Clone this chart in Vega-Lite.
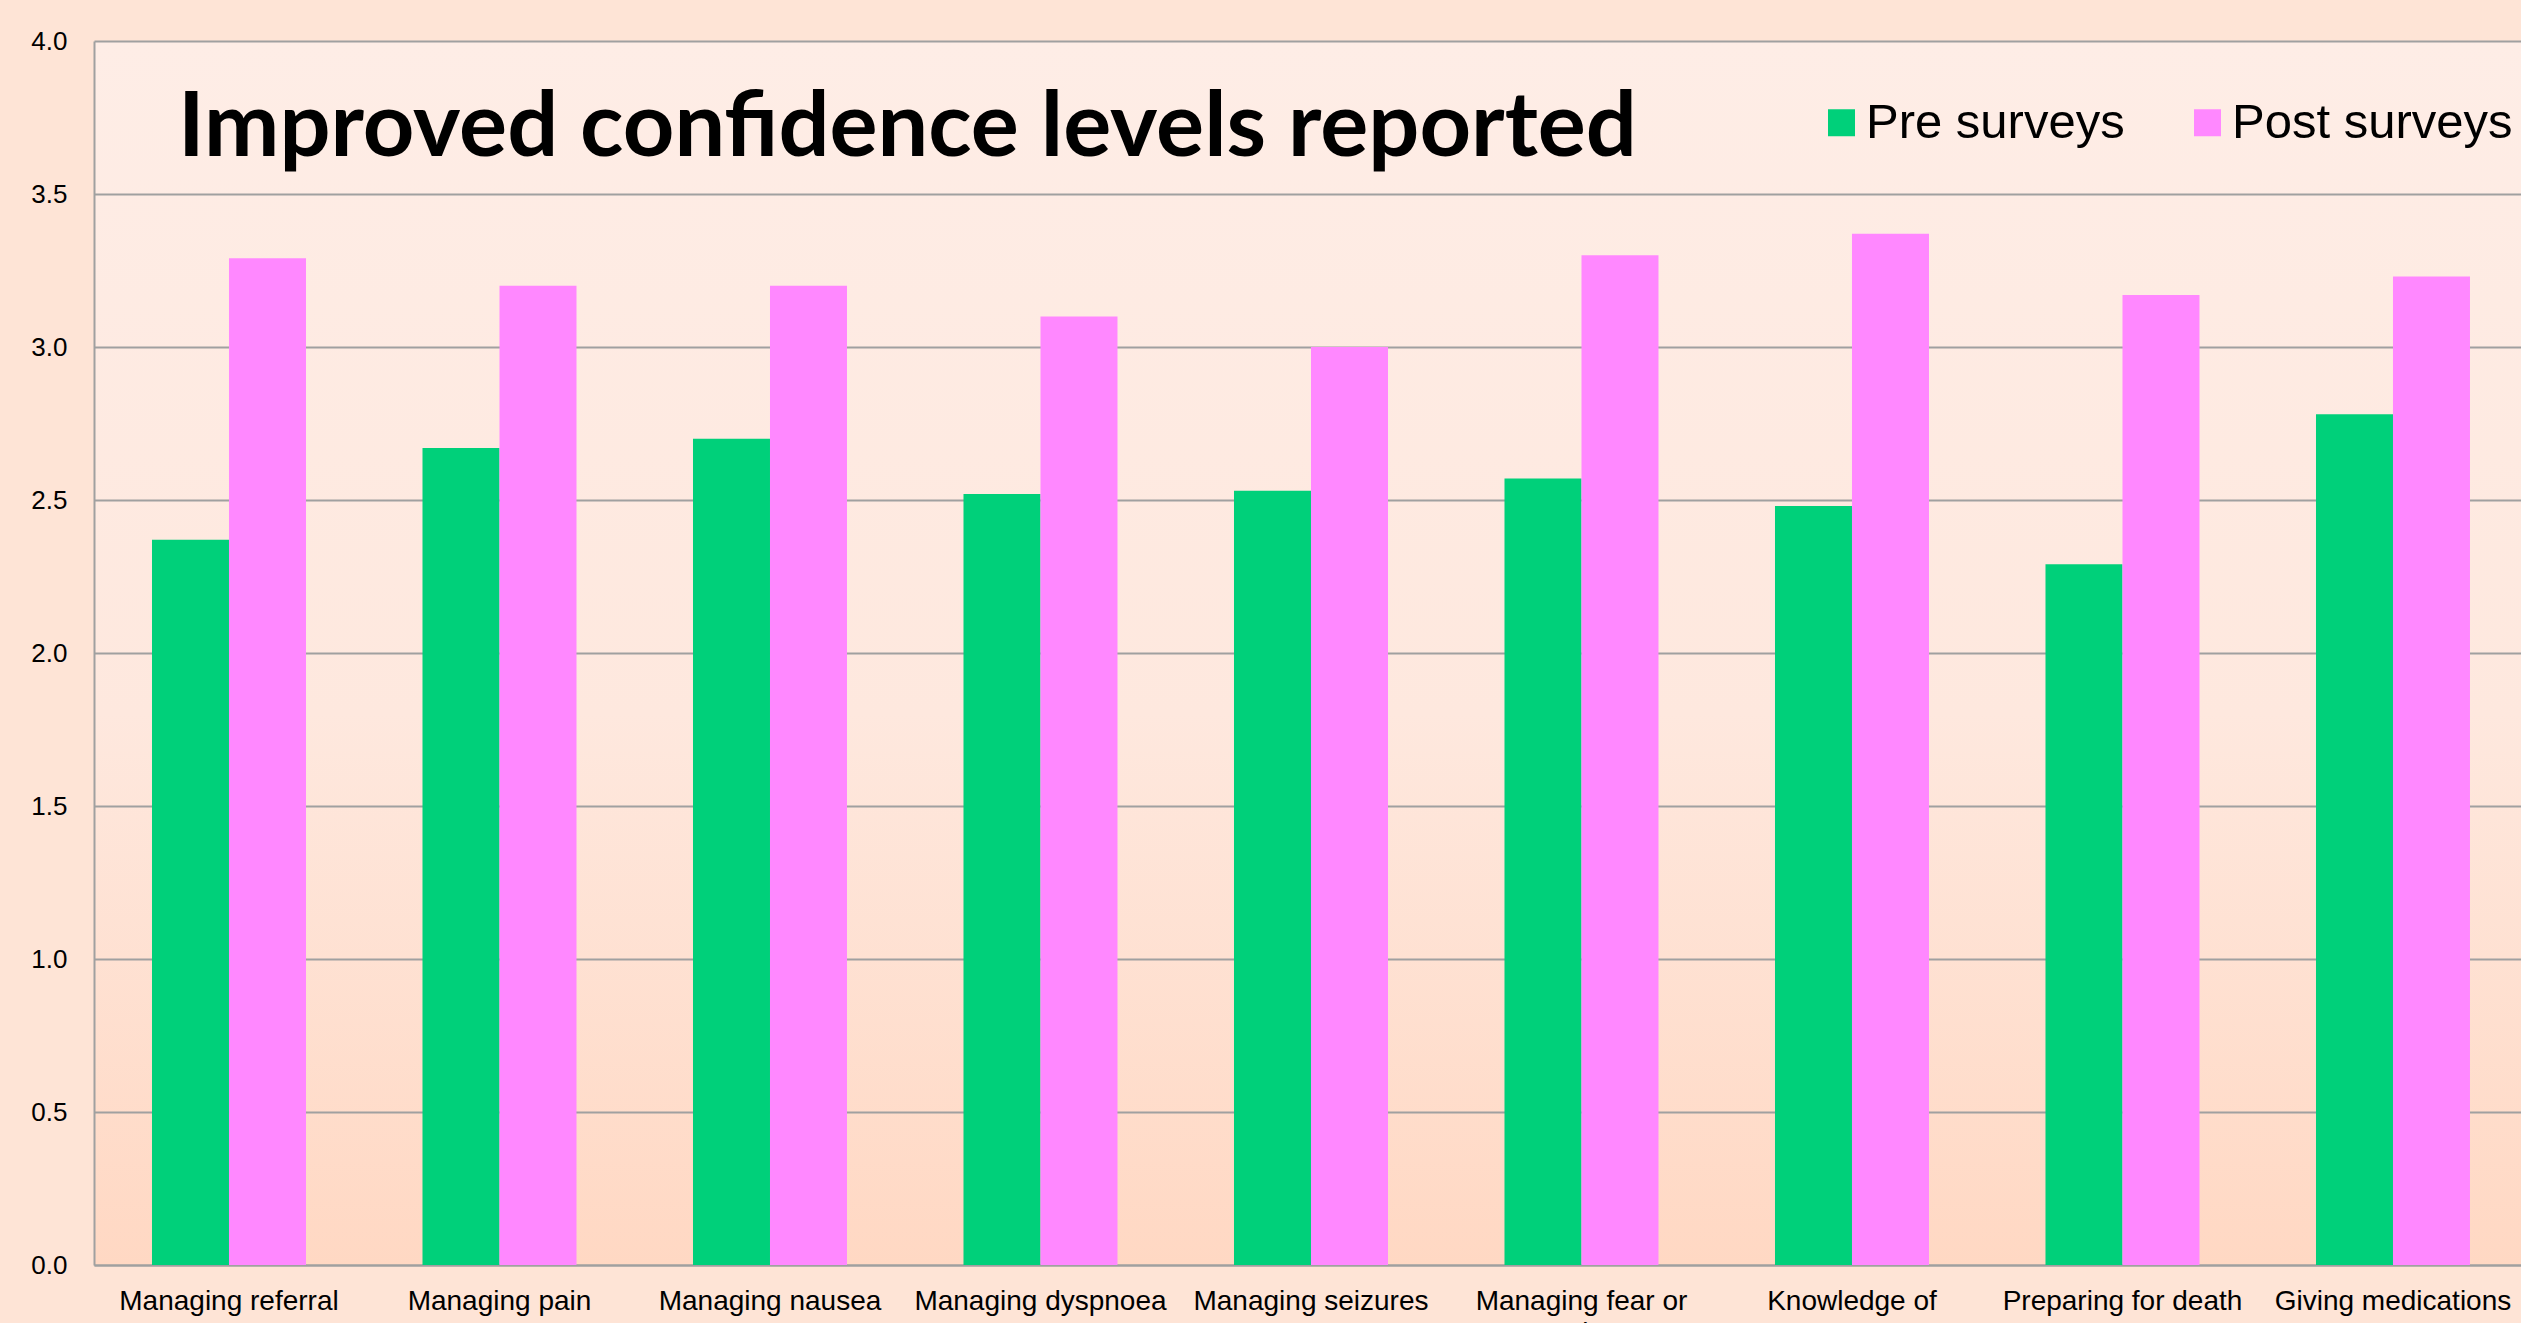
{
  "$schema": "https://vega.github.io/schema/vega-lite/v6.json",
  "autosize": {"type": "none"},
  "width": 2427,
  "height": 1224,
  "padding": {"left": 94, "top": 41, "right": 0, "bottom": 58},
  "background": "#FEE4D6",
  "view": {
    "stroke": null,
    "fill": {"expr": "{gradient: 'linear', x1: 0, y1: 0, x2: 0, y2: 1, stops: [{offset: 0, color: '#FEEDE6'}, {offset: 0.55, color: '#FEE8DE'}, {offset: 1, color: '#FFD8C3'}]}"}
  },
  "title": {
    "text": "Improved confidence levels reported",
    "anchor": "start",
    "frame": "group",
    "orient": "top",
    "offset": 0,
    "baseline": "alphabetic",
    "font": "Lato",
    "fontSize": 90,
    "fontWeight": "bold",
    "color": "#000000",
    "dx": 84,
    "dy": 218
  },
  "data": {
    "values": [
      {"skill": "Managing referral", "survey": "Pre surveys", "score": 2.37},
      {"skill": "Managing referral", "survey": "Post surveys", "score": 3.29},
      {"skill": "Managing pain", "survey": "Pre surveys", "score": 2.67},
      {"skill": "Managing pain", "survey": "Post surveys", "score": 3.2},
      {"skill": "Managing nausea", "survey": "Pre surveys", "score": 2.7},
      {"skill": "Managing nausea", "survey": "Post surveys", "score": 3.2},
      {"skill": "Managing dyspnoea", "survey": "Pre surveys", "score": 2.52},
      {"skill": "Managing dyspnoea", "survey": "Post surveys", "score": 3.1},
      {"skill": "Managing seizures", "survey": "Pre surveys", "score": 2.53},
      {"skill": "Managing seizures", "survey": "Post surveys", "score": 3.0},
      {"skill": "Managing fear or anxiety", "survey": "Pre surveys", "score": 2.57},
      {"skill": "Managing fear or anxiety", "survey": "Post surveys", "score": 3.3},
      {"skill": "Knowledge of resources", "survey": "Pre surveys", "score": 2.48},
      {"skill": "Knowledge of resources", "survey": "Post surveys", "score": 3.37},
      {"skill": "Preparing for death", "survey": "Pre surveys", "score": 2.29},
      {"skill": "Preparing for death", "survey": "Post surveys", "score": 3.17},
      {"skill": "Giving medications", "survey": "Pre surveys", "score": 2.78},
      {"skill": "Giving medications", "survey": "Post surveys", "score": 3.23}
    ]
  },
  "mark": {"type": "bar"},
  "encoding": {
    "x": {
      "field": "skill",
      "type": "nominal",
      "sort": null,
      "scale": {"paddingInner": 0.4307, "paddingOuter": 0.2015, "align": 0.532},
      "axis": {
        "title": null,
        "labelAngle": 0,
        "labelFont": "Liberation Sans",
        "labelFontSize": 28,
        "labelColor": "#000000",
        "labelLimit": 0,
        "labelOverlap": false,
        "labelBound": false,
        "labelPadding": 22,
        "labelLineHeight": 32,
        "labelExpr": "datum.label == 'Managing fear or anxiety' ? ['Managing fear or', 'anxiety'] : datum.label == 'Knowledge of resources' ? ['Knowledge of', 'resources'] : datum.label",
        "ticks": false,
        "domainColor": "#A0A0A0",
        "domainWidth": 2
      }
    },
    "xOffset": {
      "field": "survey",
      "type": "nominal",
      "sort": ["Pre surveys", "Post surveys"],
      "scale": {"paddingInner": 0, "paddingOuter": 0}
    },
    "y": {
      "field": "score",
      "type": "quantitative",
      "scale": {"domain": [0, 4], "nice": false, "zero": true},
      "axis": {
        "title": null,
        "values": [0, 0.5, 1, 1.5, 2, 2.5, 3, 3.5, 4],
        "format": ".1f",
        "grid": true,
        "gridColor": "#A0A0A0",
        "gridWidth": 2,
        "domainColor": "#A0A0A0",
        "domainWidth": 2,
        "ticks": false,
        "labelPadding": 27,
        "labelFont": "Liberation Sans",
        "labelFontSize": 26,
        "labelColor": "#000000"
      }
    },
    "color": {
      "field": "survey",
      "type": "nominal",
      "scale": {"domain": ["Pre surveys", "Post surveys"], "range": ["#00D07A", "#FF88FF"]},
      "legend": {
        "title": null,
        "orient": "none",
        "legendX": 1723,
        "legendY": 57,
        "direction": "horizontal",
        "symbolType": "square",
        "symbolSize": 729,
        "symbolStrokeWidth": 0,
        "symbolOpacity": 1,
        "labelFont": "Liberation Sans",
        "labelFontSize": 49,
        "labelColor": "#000000",
        "labelOffset": 0,
        "labelLimit": 0,
        "columnPadding": 58,
        "padding": 0
      }
    }
  }
}
